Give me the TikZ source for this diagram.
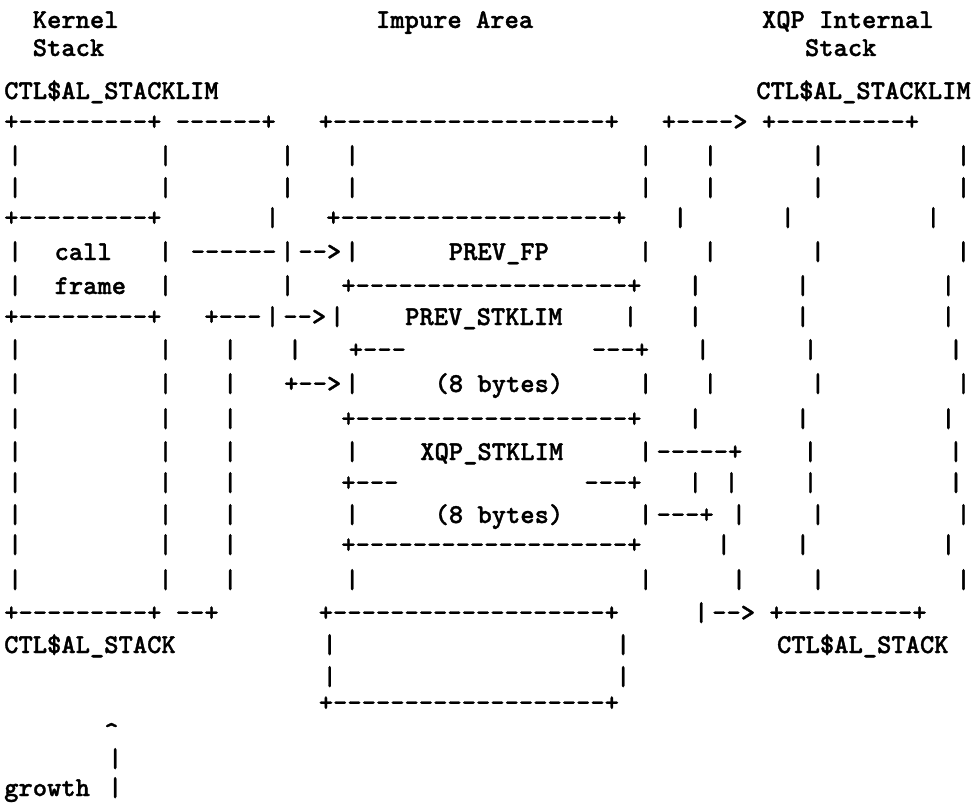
\documentclass[tikz,border=0pt]{standalone}
\usepackage{fontspec}
\usepackage{tikz}
\newfontfamily\asciifont{lmmonolt10-bold.otf}[FakeBold=1.2]
\newlength\cw
\setlength\cw{14.3bp}
\newcommand\gap[1]{\hspace*{#1\cw}}
\newcommand\vb{\makebox[21.8bp]{|}}
% last bar of a row: kept clear of the right edge
\newcommand\vbe{\hspace*{3.9bp}\makebox[4bp]{|}}

\begin{document}
\begin{tikzpicture}[x=1bp,y=-1bp,
  every node/.style={font=\asciifont\fontsize{27.33pt}{30pt}\selectfont,anchor=base west,inner sep=0pt}
]
  \useasboundingbox (0,0) rectangle (973,804);
  % headings
  \node (h1) at (4,28) {\gap2Kernel\gap{18}Impure Area\gap{16}XQP Internal};
  \node (h2) at (4,56) {\gap2Stack\gap{49}Stack};
  \node (h3) at (4,99) {CTL\$AL\_STACKLIM\gap{37.6}CTL\$AL\_STACKLIM};
  % stacks and impure area
  \node (r0) at (4,130) {+---------+\gap1------+\gap3+-------------------+\gap3+---->\gap1+---------+};
  \foreach \y/\n in {164/1,196/2}
    \node (r\n) at (4,\y) {\vb\gap9\vb\gap7\vb\gap3\vb\gap{19}\vb\gap3\vb\gap6\vb\gap9\vbe};
  \node (r3) at (4,226) {+---------+\gap7\vb\gap3+-------------------+\gap3\vb\gap6\vb\gap9\vbe};
  \node (r4) at (4,260) {\vb\gap2call\gap3\vb\gap1------\vb-->\vb\gap6PREV\_FP\gap6\vb\gap3\vb\gap6\vb\gap9\vbe};
  \node (r5) at (4,294) {\vb\gap2frame\gap2\vb\gap7\vb\gap3+-------------------+\gap3\vb\gap6\vb\gap9\vbe};
  \node (r6) at (4,325) {+---------+\gap3+---\vb-->\vb\gap4PREV\_STKLIM\gap4\vb\gap3\vb\gap6\vb\gap9\vbe};
  \node (r7) at (4,358) {\vb\gap9\vb\gap3\vb\gap3\vb\gap3+---\gap{13}---+\gap3\vb\gap6\vb\gap9\vbe};
  \node (r8) at (4,392) {\vb\gap9\vb\gap3\vb\gap3+-->\vb\gap5(8 bytes)\gap5\vb\gap3\vb\gap6\vb\gap9\vbe};
  \node (r9) at (4,427) {\vb\gap9\vb\gap3\vb\gap7+-------------------+\gap3\vb\gap6\vb\gap9\vbe};
  \node (r10) at (4,460) {\vb\gap9\vb\gap3\vb\gap7\vb\gap4XQP\_STKLIM\gap5\vb-----+\gap4\vb\gap9\vbe};
  \node (r11) at (4,491) {\vb\gap9\vb\gap3\vb\gap7+---\gap{13}---+\gap3\vb\gap1\vb\gap4\vb\gap9\vbe};
  \node (r12) at (4,523) {\vb\gap9\vb\gap3\vb\gap7\vb\gap5(8 bytes)\gap5\vb---+\gap1\vb\gap4\vb\gap9\vbe};
  \node (r13) at (4,553) {\vb\gap9\vb\gap3\vb\gap7+-------------------+\gap5\vb\gap4\vb\gap9\vbe};
  \node (r14) at (4,588) {\vb\gap9\vb\gap3\vb\gap7\vb\gap{19}\vb\gap5\vb\gap4\vb\gap9\vbe};
  \node (r15) at (4,621) {+---------+\gap1--+\gap7+-------------------+\gap5\vb-->\gap1+---------+};
  \node (r16) at (4,653) {CTL\$AL\_STACK\gap{10}\vb\gap{19}\vb\gap{10}CTL\$AL\_STACK};
  \node (r17) at (4,685) {\gap{22}\vb\gap{19}\vb};
  \node (r18) at (4,711) {\gap{22}+-------------------+};
  % growth arrow
  \node (r19) at (4,740) {\gap7\textasciicircum};
  \node (r20) at (4,767) {\gap7\vb};
  \node (r21) at (4,796) {growth\gap1\vb};
\end{tikzpicture}
\end{document}
